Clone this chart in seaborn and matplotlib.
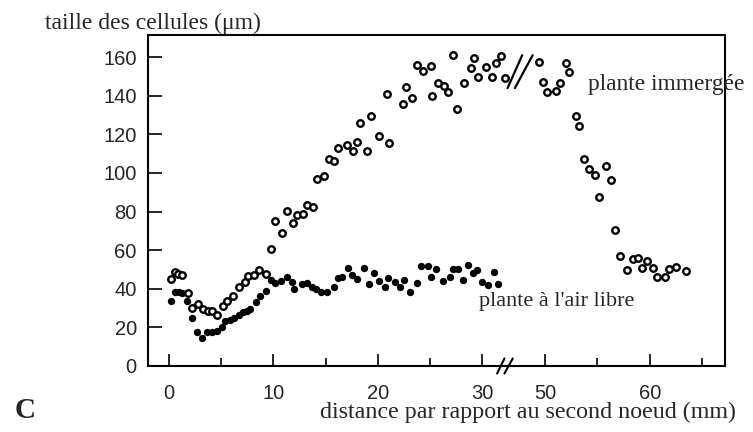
import numpy as np
import pandas as pd
import seaborn as sns
import matplotlib.pyplot as plt

# plante immergee (open circles), distance in mm, size in um
imm_x = [0.2, 0.6, 0.9, 1.3, 1.8, 2.2, 2.8, 3.3, 3.7, 4.1, 4.6, 5.2, 5.6, 6.1, 6.7, 7.3,
         7.6, 8.1, 8.6, 9.3, 9.8, 10.2, 10.8, 11.3, 11.9, 12.3, 12.8, 13.2, 13.8, 14.2,
         14.8, 15.3, 15.8, 16.2, 17.0, 17.6, 18.0, 18.3, 19.0, 19.3, 20.1, 21.1, 20.9,
         22.4, 22.7, 23.3, 23.7, 24.3, 25.1, 25.2, 25.7, 26.3, 26.7, 27.2, 27.6, 28.2,
         28.9, 29.2, 29.6, 30.3, 30.9, 31.3, 31.8, 32.2,
         49.4, 49.8, 50.2, 51.0, 51.4, 52.0, 52.3, 52.9, 53.2, 53.7, 54.2, 54.8, 55.1,
         55.8, 56.3, 56.7, 57.2, 57.8, 58.4, 58.9, 59.3, 59.7, 60.3, 60.7, 61.5, 61.8,
         62.5, 63.5]
imm_y = [45.1, 48.7, 47.7, 47.2, 37.8, 30.1, 32.1, 29.5, 28.5, 28.5, 26.4, 31.1, 33.7,
         36.3, 40.9, 43.5, 46.6, 47.2, 49.7, 47.7, 60.6, 75.1, 68.9, 80.3, 74.1, 78.2,
         78.8, 83.4, 82.4, 96.9, 98.4, 107.3, 106.2, 113.0, 114.5, 111.4, 116.1, 125.9,
         111.4, 129.5, 119.2, 115.5, 140.9, 135.8, 144.6, 138.9, 156.0, 152.8, 155.4,
         139.9, 146.6, 145.1, 142.0, 161.1, 133.2, 146.6, 154.4, 159.6, 149.7, 154.9,
         149.7, 157.0, 160.6, 149.2,
         157.5, 147.2, 142.0, 142.5, 146.6, 157.0, 152.3, 129.5, 124.4, 107.3, 102.1,
         99.0, 87.6, 103.6, 96.4, 70.5, 57.0, 49.7, 55.4, 56.0, 50.8, 54.4, 50.8, 46.1,
         46.1, 50.3, 51.3, 49.2]

# plante a l'air libre (filled dots)
air_x = [0.2, 0.6, 1.0, 1.3, 1.7, 2.2, 2.7, 3.2, 3.6, 4.1, 4.6, 5.1, 5.4, 5.8, 6.2, 6.7,
         7.1, 7.5, 7.8, 8.3, 8.7, 9.3, 9.8, 10.2, 10.7, 11.3, 11.8, 12.0, 12.7, 13.2,
         13.7, 14.1, 14.6, 15.1, 15.8, 16.2, 16.6, 17.1, 17.5, 18.0, 18.7, 19.1, 19.6,
         20.1, 20.7, 21.0, 21.6, 22.1, 22.5, 23.1, 23.7, 24.1, 24.8, 25.1, 25.6, 26.2,
         26.9, 27.2, 27.7, 28.1, 28.6, 29.1, 29.5, 30.0, 30.5, 31.1, 31.5]
air_y = [33.7, 38.3, 38.3, 37.8, 33.7, 24.9, 17.6, 14.5, 17.6, 17.6, 18.1, 20.2, 23.3,
         23.8, 24.9, 26.4, 28.0, 28.5, 29.5, 33.2, 36.3, 38.9, 44.6, 43.0, 44.0, 46.1,
         43.5, 39.9, 42.5, 43.0, 40.9, 39.9, 38.3, 38.3, 40.9, 45.6, 46.1, 50.8, 47.2,
         45.1, 50.8, 42.5, 48.2, 44.0, 40.9, 45.6, 43.5, 40.9, 44.6, 38.3, 43.0, 51.8,
         51.8, 46.1, 50.3, 44.0, 46.1, 50.3, 50.3, 44.6, 52.3, 48.2, 49.7, 43.5, 42.0,
         48.7, 42.5]

major_ticks = [0, 10, 20, 30, 50, 60]
minor_ticks = [5, 15, 25, 55, 65]
y_ticks = [0, 20, 40, 60, 80, 100, 120, 140, 160]

GAP_LO, GAP_HI = 35, 49  # broken x axis: 35..49 mm squeezed out


def fwd(x):
    x = np.asarray(x, dtype=float)
    return np.where(x <= GAP_LO, x, np.where(x >= GAP_HI, x - (GAP_HI - GAP_LO), GAP_LO))


def inv(s):
    s = np.asarray(s, dtype=float)
    return np.where(s <= GAP_LO, s, s + (GAP_HI - GAP_LO))


imm = pd.DataFrame({"distance": imm_x, "taille": imm_y})
air = pd.DataFrame({"distance": air_x, "taille": air_y})

sns.set_style("ticks")
serif = ["Liberation Serif", "DejaVu Serif"]
plt.rcParams["font.family"] = ["Liberation Sans", "DejaVu Sans"]

fig = plt.figure(figsize=(7.53, 4.32), dpi=100)
ax = fig.add_axes([0.1965, 0.1528, 0.7663, 0.7662])
ax.set_xscale("function", functions=(fwd, inv))

sns.scatterplot(data=air, x="distance", y="taille", ax=ax, color="black",
                s=28, linewidth=0, zorder=3)
sns.scatterplot(data=imm, x="distance", y="taille", ax=ax, facecolor="white",
                edgecolor="black", s=22, linewidth=1.7, zorder=3)

ax.set_xlim(-2.0, 67.2)
ax.set_ylim(0, 171.5)
ax.set_xticks(major_ticks)
ax.set_xticks(minor_ticks, minor=True)
ax.set_yticks(y_ticks)
ax.tick_params(axis="x", which="major", direction="in", length=8.6, width=1.4,
               pad=13, labelsize=14.5)
ax.tick_params(axis="x", which="minor", direction="in", length=5.8, width=1.4)
ax.tick_params(axis="y", direction="in", length=10, width=1.4, pad=8, labelsize=14.5)
ax.set_xlabel("")
ax.set_ylabel("")
for sp in ax.spines.values():
    sp.set_visible(True)
    sp.set_linewidth(1.5)
    sp.set_color("black")

# break marks on the axis and in the curve
for x0, x1 in [(31.4, 32.1), (32.1, 32.9)]:
    ax.plot([x0, x1], [-3.9, 3.9], color="black", lw=1.5, clip_on=False, zorder=4)
for x0, x1 in [(32.4, 33.8), (33.1, 34.8)]:
    ax.plot([x0, x1], [144, 161], color="black", lw=1.6, zorder=4)

ax.text(54.1, 146.0, "plante immergée", family=serif, fontsize=16.8,
        ha="left", va="center", clip_on=False)
ax.text(29.7, 33.2, "plante à l'air libre", family=serif, fontsize=16,
        ha="left", va="center")

fig.text(0.0598, 0.945, "taille des cellules (μm)", family=serif, fontsize=17,
         ha="left", va="center")
fig.text(0.425, 0.046, "distance par rapport au second noeud (mm)", family=serif,
         fontsize=17.3, ha="left", va="center")
fig.text(0.02, 0.05, "C", family=serif, fontsize=21, fontweight="bold",
         ha="left", va="center")

fig.savefig("out.png", dpi=100)
